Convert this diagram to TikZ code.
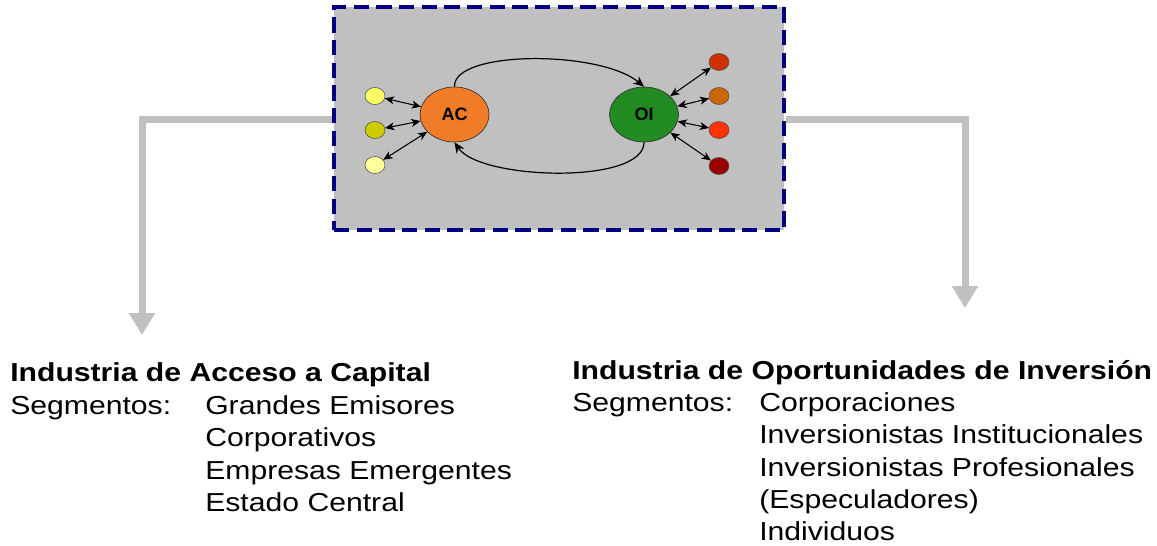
\documentclass[tikz,border=0pt]{standalone}
\usepackage{fontspec}
\setmainfont{Liberation Sans}[FakeStretch=1.16]
\newfontfamily\labelfont{Liberation Sans}
\usetikzlibrary{shapes.geometric,arrows.meta}
\definecolor{boxgray}{HTML}{C0C0C0}
\definecolor{navyblue}{HTML}{000080}
\definecolor{acorange}{HTML}{F07C28}
\definecolor{oigreen}{HTML}{228B22}
\definecolor{yA}{HTML}{FFFF66}
\definecolor{yB}{HTML}{CCCC00}
\definecolor{yC}{HTML}{FFFF99}
\definecolor{rA}{HTML}{CC3300}
\definecolor{rB}{HTML}{CC6600}
\definecolor{rC}{HTML}{FF3300}
\definecolor{rD}{HTML}{990000}
\tikzset{
  frame/.style={draw=navyblue, fill=boxgray, line width=3pt,
    dash pattern=on 11.5pt off 5.5pt, rectangle, inner sep=0,
    minimum width=337.5pt, minimum height=167.25pt},
  bignode/.style={ellipse, draw=black!80, line width=0.5pt, inner sep=0,
    minimum width=51.75pt, minimum height=41.25pt,
    font=\labelfont\bfseries\fontsize{13.5}{15}\selectfont},
  smallnode/.style={ellipse, draw=black!70, line width=0.4pt, inner sep=0,
    minimum width=15pt, minimum height=12.75pt},
  biarrow/.style={{Stealth[length=7pt,width=6pt,inset=2pt]}-{Stealth[length=7pt,width=6pt,inset=2pt]}, line width=0.8pt},
  flow/.style={-{Stealth[length=8pt,width=7pt,inset=2.5pt]}, line width=0.9pt},
  grayarrow/.style={draw=boxgray, line width=5.25pt,
    -{Triangle[length=16.5pt,width=18.75pt]}},
  txt/.style={inner sep=0, anchor=base west, font=\fontsize{19.5}{24}\selectfont}
}
\begin{document}
\begin{tikzpicture}[x=0.75pt,y=-0.75pt]
\useasboundingbox (0,0) rectangle (1157,546);

% frame
\node[frame] (frame) at (559,118.5) {};

% gray arrows
\coordinate (lefttip) at (142,335);
\coordinate (righttip) at (965,308);
\draw[grayarrow] ([yshift=-1.1pt]frame.west) -| (lefttip);
\draw[grayarrow] ([yshift=-1.1pt]frame.east) -| (righttip);

% big nodes
\node[bignode, fill=acorange] (ac) at (454.5,114.5) {AC};
\node[bignode, fill=oigreen] (oi) at (644,114.5) {OI};

% small nodes left
\node[smallnode, fill=yA] (y1) at (375,96) {};
\node[smallnode, fill=yB] (y2) at (375,130) {};
\node[smallnode, fill=yC] (y3) at (375,165) {};
% small nodes right
\node[smallnode, fill=rA] (r1) at (719,62) {};
\node[smallnode, fill=rB] (r2) at (719,96) {};
\node[smallnode, fill=rC] (r3) at (719,130) {};
\node[smallnode, fill=rD] (r4) at (719,166) {};

% double arrows
\draw[biarrow] (y1) -- (ac);
\draw[biarrow] (y2) -- (ac);
\draw[biarrow] (y3) -- (ac);
\draw[biarrow] (r1) -- (oi);
\draw[biarrow] (r2) -- (oi);
\draw[biarrow] (r3) -- (oi);
\draw[biarrow] (r4) -- (oi);

% flows between AC and OI
\draw[flow] (ac.north) .. controls (453,50) and (600,50) .. (oi.north);
\draw[flow] (oi.south) .. controls (644,185) and (480,180) .. (ac.south);

% left text
\node[txt] (lt) at (10,381.5) {\bfseries Industria de Acceso a Capital};
\node[txt] (ls) at (10,414) {Segmentos:};
\node[txt] (l1) at (205,414) {Grandes Emisores};
\node[txt] (l2) at (205,446.5) {Corporativos};
\node[txt] (l3) at (205,479) {Empresas Emergentes};
\node[txt] (l4) at (205,511.5) {Estado Central};

% right text
\node[txt] (rt) at (572,379) {\bfseries Industria de Oportunidades de Inversión};
\node[txt] (rs) at (572,411) {Segmentos:};
\node[txt] (q1) at (759,411) {Corporaciones};
\node[txt] (q2) at (759,443.5) {Inversionistas Institucionales};
\node[txt] (q3) at (759,476) {Inversionistas Profesionales};
\node[txt] (q4) at (759,508) {(Especuladores)};
\node[txt] (q5) at (759,540) {Individuos};
\end{tikzpicture}
\end{document}
